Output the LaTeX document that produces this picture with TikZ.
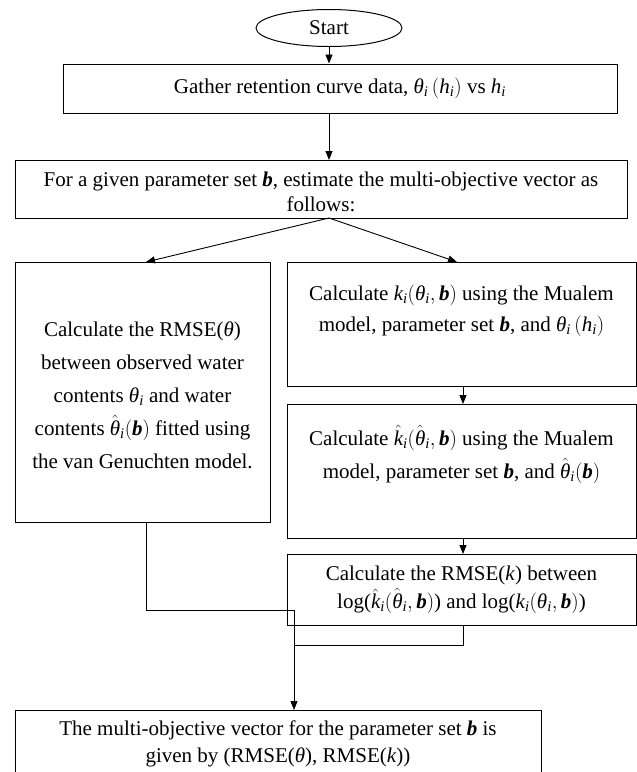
\documentclass[tikz,border=0pt]{standalone}
\usepackage{fontspec}
\setmainfont{Liberation Serif}
\usepackage{amsmath}
\usetikzlibrary{shapes.geometric,arrows.meta}
\newcommand{\vit}[1]{\text{\itshape #1}}
\newcommand{\bvec}{\text{\bfseries\itshape b}}
\newcommand{\tb}{\textbf{\textit{b}}}
\begin{document}
\begin{tikzpicture}[x=1pt,y=-1pt,
  box/.style={draw,line width=1pt,rectangle,inner sep=0pt},
  lbl/.style={align=center,inner sep=0pt,font=\fontsize{21}{#1}\selectfont},
  lbl/.default=31,
  arr/.style={-{Triangle[length=9pt,width=7pt]},line width=0.9pt},
  ln/.style={line width=0.9pt}]
\useasboundingbox (0,0) rectangle (637,772);
% boxes
\node[draw,line width=1pt,ellipse,minimum width=146pt,minimum height=37pt,inner sep=0pt] (start) at (329,28) {};
\node[lbl] (startt) at (start) {Start};
\node[box,minimum width=554pt,minimum height=49pt] (gather) at (340,88.5) {};
\node[lbl] (gathert) at (gather) {Gather retention curve data, $\vit{θ}_{\vit{i}}\,(\vit{h}_{\vit{i}})$ vs $\vit{h}_{\vit{i}}$};
\node[box,minimum width=612pt,minimum height=58pt] (for) at (321,189) {};
\node[lbl=25] (fort) at (321,192) {For a given parameter set \tb, estimate the multi-objective vector as\\ follows:};
\node[box,minimum width=255pt,minimum height=260pt] (left) at (142.5,392) {};
\node[lbl=33] (leftt) at (142.5,395) {Calculate the RMSE($\vit{θ}$)\\ between observed water\\ contents $\vit{θ}_{\vit{i}}$ and water\\ contents $\hat{\vit{θ}}_{\vit{i}}(\bvec)$ fitted using\\ the van Genuchten model.};
\node[box,minimum width=349pt,minimum height=124pt] (r1) at (461.5,324) {};
\node[lbl=31] (r1t) at (461.5,311) {Calculate $\vit{k}_{\vit{i}}(\vit{θ}_{\vit{i}},\bvec)$ using the Mualem\\ model, parameter set \tb, and $\vit{θ}_{\vit{i}}\,(\vit{h}_{\vit{i}})$};
\node[box,minimum width=349pt,minimum height=134pt] (r2) at (461.5,471) {};
\node[lbl=33] (r2t) at (461.5,454) {Calculate $\hat{\vit{k}}_{\vit{i}}(\hat{\vit{θ}}_{\vit{i}},\bvec)$ using the Mualem\\ model, parameter set \tb, and $\hat{\vit{θ}}_{\vit{i}}(\bvec)$};
\node[box,minimum width=349pt,minimum height=71pt] (r3) at (461.5,589.5) {};
\node[lbl=28] (r3t) at (461.5,590) {Calculate the RMSE(\textit{k}) between\\ log($\hat{\vit{k}}_{\vit{i}}(\hat{\vit{θ}}_{\vit{i}},\bvec)$) and log($\vit{k}_{\vit{i}}(\vit{θ}_{\vit{i}},\bvec)$)};
\node[box,minimum width=526pt,minimum height=80pt] (final) at (278,750) {};
\node[lbl=27] (finalt) at (278,744) {The multi-objective vector for the parameter set \tb{} is\\ given by (RMSE(\textit{θ}), RMSE(\textit{k}))};
% junctions
\coordinate (j1) at (146,610);
\coordinate (j2) at (294,610);
\coordinate (j3) at (463,645);
\coordinate (j4) at (294,645);
% connectors
\draw[arr] (start.south) -- (start.south |- gather.north);
\draw[arr] (329,113) -- (329,160);
\draw[arr] (329,218) -- (146,262);
\draw[arr] (329,218) -- (457,262);
\draw[arr] (463,386) -- (463,404);
\draw[arr] (463,538) -- (463,554);
\draw[ln] (146,522) -- (j1) -- (j2);
\draw[arr] (j2) -- (294,710);
\draw[ln] (463,625) -- (j3) -- (j4);
\end{tikzpicture}
\end{document}
